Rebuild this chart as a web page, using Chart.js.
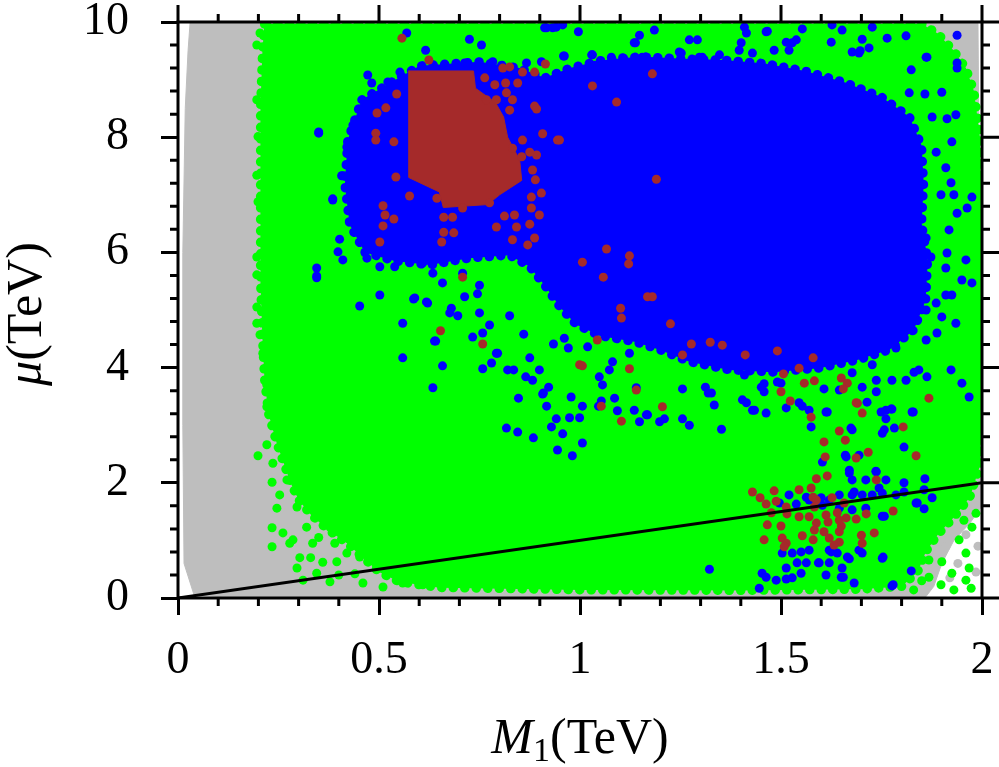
<!DOCTYPE html>
<html>
<head>
<meta charset="utf-8">
<script src="https://cdn.jsdelivr.net/npm/chart.js@4.4.1/dist/chart.umd.min.js"></script>
<style>
  html, body { margin: 0; padding: 0; background: #fff; }
  canvas { display: block; }
</style>
</head>
<body>
<canvas id="scan" width="999" height="767"></canvas>
<script>
// tick values of the two axes
const X_TICKS = [0, 0.5, 1, 1.5, 2];
const Y_TICKS = [0, 2, 4, 6, 8, 10];

// outlines of the areas that are solidly covered by points, [M1, mu] in TeV
const GRAY_REGION = [
    [0.03, 9.98], [1.99, 9.98], [2.0, 1.6], [1.97, 1.3], [1.93, 1.0], [1.90, 0.6], [1.88, 0.2],
    [1.86, 0.02], [0.12, 0.02], [0.04, 0.05], [0.015, 0.6], [0.012, 3], [0.012, 6], [0.018, 8.5],
    [0.025, 9.5], [0.03, 9.98],
];

const GREEN_REGION = [
    [0.215, 9.97], [0.21, 9.5], [0.205, 8.5], [0.205, 7.5], [0.205, 6.5], [0.205, 5.5], [0.21, 4.5],
    [0.215, 3.8], [0.225, 3.2], [0.245, 2.7], [0.265, 2.3], [0.28, 2.0], [0.30, 1.7], [0.33, 1.45],
    [0.37, 1.2], [0.42, 0.95], [0.46, 0.7], [0.50, 0.45], [0.55, 0.28], [0.65, 0.18], [1.0, 0.14],
    [1.4, 0.13], [1.7, 0.15], [1.80, 0.2], [1.84, 0.45], [1.86, 0.8], [1.89, 1.1], [1.93, 1.4],
    [1.97, 1.75], [1.995, 2.3], [2.0, 3.5], [2.0, 5], [2.0, 6.5], [1.995, 8], [1.98, 8.8],
    [1.96, 9.2], [1.93, 9.5], [1.89, 9.8], [1.85, 9.97], [0.215, 9.97],
];

const BLUE_REGION = [
    [0.457, 8.65], [0.539, 8.99], [0.601, 9.24], [0.750, 9.31], [0.850, 9.20], [0.912, 9.03],
    [0.975, 9.20], [1.05, 9.33], [1.15, 9.40], [1.26, 9.36], [1.36, 9.34], [1.46, 9.28],
    [1.56, 9.15], [1.66, 8.95], [1.75, 8.70], [1.82, 8.35], [1.85, 7.85], [1.855, 7.20],
    [1.85, 6.50], [1.865, 5.87], [1.86, 5.17], [1.83, 4.65], [1.77, 4.31], [1.69, 4.13],
    [1.595, 3.99], [1.483, 3.92], [1.371, 3.96], [1.272, 4.10], [1.198, 4.31], [1.135, 4.45],
    [1.05, 4.55], [0.99, 4.75], [0.95, 5.05], [0.915, 5.40], [0.875, 5.75], [0.825, 5.95],
    [0.725, 5.90], [0.626, 5.78], [0.539, 5.85], [0.465, 6.00], [0.427, 6.48], [0.415, 7.17],
    [0.422, 7.95], [0.457, 8.65],
];

const BROWN_REGION = [
    [0.574, 9.15], [0.735, 9.15], [0.74, 8.85], [0.79, 8.60], [0.81, 8.35], [0.82, 8.00],
    [0.85, 7.60], [0.855, 7.25], [0.80, 7.00], [0.77, 6.83], [0.66, 6.78], [0.65, 7.05],
    [0.574, 7.30], [0.574, 9.15],
];

// single points outside the solid areas
const GRAY_POINTS = [
    [1.91, 0.89], [1.94, 0.60], [1.96, 1.10], [1.99, 0.90], [1.92, 0.35], [1.985, 0.45],
];

const GREEN_POINTS = [
    [0.204, 9.81], [0.258, 9.86], [0.196, 9.60], [0.229, 9.46], [0.196, 8.65], [0.199, 8.01],
    [0.196, 7.34], [0.199, 6.88], [0.196, 5.92], [0.196, 5.61], [0.196, 5.05], [0.196, 4.77],
    [0.204, 4.57], [0.211, 4.25], [0.221, 3.73], [0.221, 3.70], [0.221, 3.32], [0.246, 3.49],
    [0.199, 2.47], [0.221, 2.66], [0.236, 2.34], [0.234, 2.01], [0.253, 1.79], [0.246, 1.56],
    [0.234, 1.22], [0.234, 0.89], [0.261, 1.13], [0.278, 0.95], [0.296, 0.52], [0.311, 0.31],
    [0.378, 0.28], [0.345, 0.43], [0.395, 0.63], [0.42, 0.78], [0.378, 1.23], [0.41, 1.13],
    [0.335, 0.95], [0.32, 1.23], [0.296, 1.58], [0.271, 2.05], [0.46, 0.26], [0.51, 0.19],
    [0.559, 0.26], [0.609, 0.23], [0.452, 0.71], [0.494, 0.54], [0.286, 1.01], [0.303, 0.70],
    [0.36, 0.62], [0.44, 0.42], [0.40, 0.40], [0.33, 0.70], [0.35, 1.05], [0.39, 0.95],
    [1.868, 0.66], [1.90, 0.63], [1.925, 0.43], [1.96, 0.31], [1.973, 0.17], [1.93, 0.14],
    [1.898, 0.23], [1.868, 0.36], [1.96, 0.78], [1.968, 0.52], [1.943, 1.01], [1.975, 1.23],
    [1.955, 1.35], [1.985, 1.47], [1.83, 0.14], [1.85, 0.30],
];

const BLUE_POINTS = [
    [0.569, 9.81], [0.616, 9.51], [0.725, 9.70], [0.755, 9.60], [0.35, 8.09], [0.385, 6.93],
    [0.407, 7.33], [0.345, 5.73], [0.345, 5.56], [0.502, 5.26], [0.452, 5.07], [0.559, 4.77],
    [0.638, 4.46], [0.559, 4.17], [0.634, 3.65], [0.658, 4.03], [0.398, 6.01], [0.402, 6.23],
    [0.589, 5.21], [0.618, 5.14], [0.676, 4.95], [0.733, 4.53], [0.758, 4.60], [0.758, 3.98],
    [0.78, 4.08], [0.792, 4.25], [0.75, 4.95], [0.658, 5.47], [0.708, 5.64], [0.75, 5.43],
    [0.586, 5.19], [0.621, 5.12], [0.641, 4.46], [0.713, 5.23], [0.745, 5.28], [0.68, 5.03],
    [0.696, 4.90], [0.775, 4.74], [0.817, 2.95], [0.845, 2.88], [0.884, 2.78], [0.847, 3.47],
    [0.825, 4.90], [0.86, 4.58], [0.875, 4.17], [0.865, 3.84], [0.882, 3.78], [0.899, 3.96],
    [0.795, 4.25], [0.82, 3.96], [0.835, 3.96], [0.909, 3.56], [0.917, 3.33], [0.941, 3.11],
    [0.929, 2.97], [0.957, 2.85], [1.006, 2.69], [0.944, 2.57], [0.981, 2.47], [0.974, 3.13],
    [0.999, 3.13], [1.006, 3.33], [0.978, 3.49], [0.934, 4.41], [0.971, 4.34], [0.961, 4.51],
    [1.019, 4.36], [1.046, 3.33], [1.053, 3.42], [1.093, 3.25], [1.135, 3.26], [1.168, 3.18],
    [1.148, 3.06], [1.198, 3.06], [1.056, 3.70], [1.048, 3.84], [1.081, 4.10], [1.073, 3.96],
    [1.123, 4.25], [1.14, 3.65], [1.255, 3.63], [1.272, 3.00], [1.255, 3.11], [1.312, 3.66],
    [1.327, 3.56], [1.334, 3.35], [1.352, 2.93], [1.404, 3.44], [1.429, 3.26], [1.463, 3.21],
    [1.513, 3.30], [1.553, 3.33], [1.575, 2.97], [1.451, 3.66], [1.458, 3.58], [1.50, 3.73],
    [0.907, 3.54], [0.922, 3.66], [1.086, 3.47], [1.165, 3.18], [1.21, 3.11], [1.319, 3.56],
    [1.615, 3.23], [1.674, 2.95], [1.761, 3.26], [1.776, 3.28], [1.761, 3.11], [1.752, 2.86],
    [1.782, 2.95], [1.829, 3.23], [1.806, 2.62], [1.694, 2.48], [1.662, 2.45], [1.603, 2.36],
    [1.322, 0.50],
    [1.67, 2.22], [1.677, 2.05], [1.711, 2.05], [1.736, 2.20], [1.761, 2.05], [1.806, 2.00],
    [1.858, 2.07], [1.856, 1.88], [1.876, 1.74], [1.839, 1.65], [1.856, 1.55], [1.806, 1.84],
    [1.786, 1.79], [1.752, 1.82], [1.727, 1.79], [1.702, 1.79], [1.677, 1.79], [1.645, 1.79],
    [1.62, 1.70], [1.60, 1.74], [1.57, 1.70], [1.52, 1.79], [1.496, 1.65], [1.645, 1.56],
    [1.677, 1.53], [1.752, 1.42], [1.711, 1.56],
    [1.503, 0.78], [1.55, 0.80], [1.57, 0.83], [1.54, 0.61], [1.593, 0.61], [1.62, 0.61],
    [1.62, 0.83], [1.64, 0.78], [1.665, 0.71], [1.694, 0.83], [1.702, 0.78], [1.752, 0.69],
    [1.652, 0.52], [1.65, 0.36], [1.682, 0.26], [1.612, 0.40], [1.55, 0.43], [1.513, 0.52],
    [1.513, 0.33], [1.488, 0.31], [1.453, 0.43], [1.463, 0.36], [1.446, 0.17], [1.776, 0.21],
    [1.824, 0.47],
    [1.538, 1.63], [1.563, 1.75], [1.603, 1.61], [1.67, 2.17], [1.682, 1.84], [1.737, 2.19],
    [1.744, 1.91], [1.836, 1.65], [1.757, 1.42], [1.528, 0.78], [1.563, 0.61], [1.528, 0.35],
    [1.595, 0.61], [1.625, 0.80], [1.67, 0.68], [1.655, 0.36], [1.754, 0.71], [1.779, 0.23],
    [1.466, 4.01], [1.409, 3.87], [1.458, 3.72], [1.491, 3.75], [1.414, 3.39], [1.434, 3.26],
    [1.545, 3.39], [1.57, 3.26], [1.612, 3.23], [1.607, 3.63], [1.645, 3.61], [1.677, 3.91],
    [1.702, 3.66], [1.737, 3.58], [1.714, 3.40], [1.749, 3.23], [1.774, 3.28], [1.757, 2.92],
    [1.826, 3.23], [1.66, 2.48], [1.677, 2.92], [1.776, 3.78], [1.831, 3.92], [1.727, 4.05],
    [0.996, 9.83], [1.148, 9.77], [1.185, 9.86], [1.138, 9.64], [1.409, 9.91], [1.466, 9.84],
    [1.553, 9.88], [1.627, 9.95], [1.652, 9.86], [1.727, 9.91], [1.702, 9.70], [1.764, 9.72],
    [1.811, 9.76], [1.938, 9.77], [1.863, 9.39], [1.938, 9.29], [1.938, 9.20], [1.625, 9.65],
    [1.677, 9.48], [1.697, 9.50], [1.719, 9.55], [1.528, 9.64], [1.52, 9.51], [1.401, 9.64],
    [1.429, 9.46], [1.272, 9.69], [1.292, 9.69], [1.304, 9.39], [1.347, 9.43], [1.247, 9.48],
    [1.205, 9.29], [1.078, 9.39], [1.031, 9.43], [0.961, 9.41], [0.949, 9.01], [0.984, 8.87],
    [0.912, 9.90], [0.932, 9.90], [0.957, 9.95], [1.135, 9.64], [1.414, 9.81], [1.396, 9.51],
    [1.463, 9.83], [1.483, 9.51], [1.513, 9.65], [1.538, 9.69], [1.694, 9.46], [1.861, 9.39],
    [1.252, 9.46], [1.297, 9.39], [1.155, 9.39], [1.106, 9.38], [1.066, 9.20], [1.198, 9.25],
    [1.824, 9.17], [1.858, 8.75], [1.90, 8.78], [1.819, 8.77], [1.876, 8.35], [1.913, 8.32],
    [1.935, 8.39], [1.925, 7.92], [1.886, 7.74], [1.91, 7.47], [1.923, 7.21], [1.898, 7.00],
    [1.93, 7.00], [1.975, 6.96], [1.963, 6.77], [1.938, 6.68], [1.918, 6.39], [1.861, 6.25],
    [1.913, 5.99], [1.96, 5.87], [1.873, 5.92], [1.91, 5.73], [1.95, 5.52], [1.975, 5.47],
    [1.861, 5.40], [1.91, 5.26], [1.925, 5.26], [1.886, 5.12], [1.861, 5.00], [1.90, 4.88],
    [1.935, 4.77], [1.888, 4.60], [1.861, 4.48], [1.776, 4.53], [1.786, 4.34], [1.843, 3.96],
    [1.923, 3.96], [1.811, 3.78], [1.863, 3.84], [1.95, 3.73], [1.737, 3.78], [1.968, 3.49],
    [0.35, 8.07], [0.435, 8.21], [0.42, 7.83], [0.41, 7.33], [0.385, 6.91], [0.41, 5.87],
    [0.345, 5.59], [0.472, 9.08], [0.482, 8.94], [0.522, 8.96], [0.552, 9.13], [0.713, 9.29],
    [0.783, 9.31], [0.867, 9.29], [0.904, 9.31], [0.959, 9.41], [0.917, 9.90], [0.941, 9.91],
    [1.029, 9.43], [1.036, 9.25], [1.031, 8.68], [1.004, 9.03], [0.47, 5.90], [0.502, 5.75],
    [0.539, 5.75], [0.576, 5.90], [0.609, 5.82], [0.634, 5.64],
];

const BROWN_POINTS = [
    [0.557, 9.72], [0.624, 9.34], [0.544, 8.75], [0.517, 8.51], [0.495, 8.42], [0.492, 8.07],
    [0.492, 7.95], [0.537, 7.92], [0.542, 7.31], [0.576, 6.98], [0.51, 6.81], [0.515, 6.65],
    [0.537, 6.58], [0.51, 6.46], [0.502, 6.18], [0.644, 6.94], [0.661, 6.61], [0.683, 6.61],
    [0.661, 6.35], [0.686, 6.34], [0.656, 6.18], [0.708, 6.77], [0.775, 6.86], [0.792, 6.44],
    [0.812, 6.63], [0.837, 6.65], [0.842, 6.44], [0.832, 6.22], [0.875, 6.49], [0.899, 6.65],
    [0.879, 6.77], [0.887, 6.25], [0.87, 6.13], [0.879, 6.96], [0.904, 7.03], [0.889, 7.26],
    [0.882, 7.43], [0.892, 7.69], [0.875, 7.74], [0.855, 7.66], [0.857, 7.95], [0.832, 7.81],
    [0.907, 8.06], [0.944, 7.95], [0.825, 8.47], [0.832, 8.65], [0.887, 8.54], [0.892, 8.49],
    [0.817, 8.77], [0.815, 8.94], [0.845, 8.94], [0.857, 9.13], [0.887, 9.13], [0.914, 9.27],
    [0.825, 9.22], [0.808, 9.20], [0.763, 9.03], [0.792, 8.65], [0.767, 8.65], [0.788, 8.91],
    [1.031, 8.89], [1.006, 5.83], [0.708, 5.57],
    [1.18, 9.10], [1.091, 8.61], [1.19, 7.27], [1.066, 6.06], [1.123, 5.94], [1.121, 5.80],
    [1.058, 5.57], [1.168, 5.23], [1.18, 5.23], [1.101, 5.03], [1.103, 4.86], [1.225, 4.76],
    [1.043, 4.48], [1.277, 4.41], [1.324, 4.44], [1.354, 4.39], [1.255, 4.22], [1.411, 4.22],
    [1.491, 4.29], [1.58, 4.17], [1.545, 3.99], [1.506, 3.89], [0.999, 4.05], [1.123, 3.98],
    [1.14, 3.61], [1.65, 3.82], [1.558, 3.73], [1.583, 3.77], [1.50, 3.58], [1.868, 3.47],
    [0.949, 7.95],
    [1.804, 2.97], [1.836, 2.47], [1.717, 2.53], [1.687, 2.43], [1.702, 3.21], [1.69, 3.38],
    [1.053, 3.33], [1.103, 3.07], [1.205, 3.32], [0.653, 4.64], [0.758, 4.41], [1.006, 4.03],
    [1.523, 3.42], [1.665, 3.73], [1.655, 3.63], [1.575, 3.14], [1.687, 3.39], [1.645, 2.90],
    [1.66, 2.74], [1.607, 2.71], [1.61, 2.45], [1.588, 2.07], [1.615, 2.12], [1.737, 2.05],
    [1.429, 1.84], [1.448, 1.74], [1.483, 1.86], [1.545, 1.88], [1.575, 1.91], [1.58, 1.75],
    [1.463, 1.63], [1.488, 1.68], [1.513, 1.58], [1.583, 1.58], [1.627, 1.74], [1.657, 1.65],
    [1.476, 1.48], [1.515, 1.46], [1.545, 1.41], [1.57, 1.41], [1.612, 1.44], [1.64, 1.48],
    [1.662, 1.39], [1.687, 1.37], [1.712, 1.46], [1.779, 1.51], [1.466, 1.27], [1.50, 1.25],
    [1.588, 1.30], [1.617, 1.32], [1.65, 1.25], [1.583, 1.18], [1.607, 1.15], [1.645, 1.15],
    [1.458, 1.01], [1.503, 1.04], [1.513, 0.95], [1.553, 1.08], [1.58, 1.01], [1.62, 1.04],
    [1.645, 0.97], [1.632, 0.92], [1.70, 1.09], [1.702, 0.95], [1.732, 1.13], [1.508, 0.89],
    [1.588, 1.70], [1.645, 1.35],
];

// the line mu = M1
const DIAGONAL = [[0, 0], [2, 2]];

const FONT = '"Liberation Serif", "DejaVu Serif", serif';
const MAJOR_TICK = 17;
const MINOR_TICK = 8;

const toXY = (pairs) => pairs.map(([x, y]) => ({x, y}));

// filled outline; the dotted round-capped border gives the edge the grain of the dots
function region(pairs, color, order, edge) {
    return {
        data: toXY(pairs),
        showLine: true,
        fill: 'shape',
        tension: 0,
        borderWidth: edge ? 9 : 1,
        borderDash: edge ? [0.5, 11] : [],
        borderCapStyle: 'round',
        borderColor: color,
        backgroundColor: color,
        pointRadius: 0,
        clip: 0,
        order,
    };
}

function dots(pairs, color, order) {
    return {
        data: toXY(pairs),
        showLine: false,
        pointRadius: 4.5,
        pointBorderWidth: 0,
        backgroundColor: color,
        borderColor: color,
        clip: 0,
        order,
    };
}

// frame, minor ticks, ticks on the top and right side, axis titles
const framePlugin = {
    id: 'frame',
    afterDraw(chart) {
        const {ctx, chartArea: a, scales: {x, y}} = chart;
        ctx.save();
        ctx.strokeStyle = '#000';
        ctx.lineWidth = 3;
        ctx.lineCap = 'butt';
        ctx.strokeRect(a.left, a.top, a.right - a.left, a.bottom - a.top);

        ctx.beginPath();
        for (let i = 0; i <= 20; i++) {
            const px = x.getPixelForValue(i / 10);
            const major = i % 5 === 0;
            const len = major ? MAJOR_TICK : MINOR_TICK;
            if (!major) {
                ctx.moveTo(px, a.bottom);
                ctx.lineTo(px, a.bottom + len);
            }
            ctx.moveTo(px, a.top);
            ctx.lineTo(px, a.top - len);
        }
        for (let i = 0; i <= 25; i++) {
            const py = y.getPixelForValue(i * 0.4);
            const major = i % 5 === 0;
            const len = major ? MAJOR_TICK : MINOR_TICK;
            if (!major) {
                ctx.moveTo(a.left, py);
                ctx.lineTo(a.left - len, py);
            }
            ctx.moveTo(a.right, py);
            ctx.lineTo(a.right + len, py);
        }
        ctx.stroke();

        ctx.fillStyle = '#000';
        ctx.textBaseline = 'alphabetic';

        // x title: M_1(TeV)
        const big = `50px ${FONT}`;
        const ital = `italic 50px ${FONT}`;
        const sub = `34px ${FONT}`;
        ctx.font = ital; const wM = ctx.measureText('M').width;
        ctx.font = sub; const w1 = ctx.measureText('1').width;
        ctx.font = big; const wT = ctx.measureText('(TeV)').width;
        let tx = (a.left + a.right) / 2 - (wM + w1 + wT) / 2;
        const ty = 753;
        ctx.font = ital; ctx.fillText('M', tx, ty); tx += wM;
        ctx.font = sub; ctx.fillText('1', tx, ty + 8); tx += w1;
        ctx.font = big; ctx.fillText('(TeV)', tx, ty);

        // y title: mu(TeV), rotated
        ctx.translate(41, (a.top + a.bottom) / 2 + 4);
        ctx.rotate(-Math.PI / 2);
        ctx.font = ital; const wmu = ctx.measureText('μ').width;
        ctx.font = big; const wT2 = ctx.measureText('(TeV)').width;
        let ux = -(wmu + wT2) / 2;
        ctx.font = ital; ctx.fillText('μ', ux, 0); ux += wmu;
        ctx.font = big; ctx.fillText('(TeV)', ux, 0);
        ctx.restore();
    },
};

function axis(ticks, min, max, padding, size) {
    return {
        type: 'linear',
        min,
        max,
        afterBuildTicks: (scale) => { scale.ticks = ticks.map((v) => ({value: v})); },
        afterFit: (scale) => {
            if (scale.isHorizontal()) scale.height = size;
            else scale.width = size;
            scale.paddingLeft = scale.paddingRight = scale.paddingTop = scale.paddingBottom = 0;
        },
        ticks: {
            color: '#000',
            font: {family: FONT, size: 46},
            padding,
            maxRotation: 0,
            autoSkip: false,
            callback: (v) => String(v),
        },
        grid: {
            drawOnChartArea: false,
            drawTicks: true,
            tickLength: MAJOR_TICK,
            tickWidth: 3,
            tickColor: '#000',
        },
        border: {display: false},
    };
}

new Chart(document.getElementById('scan'), {
    type: 'scatter',
    data: {
        datasets: [
            {
                data: toXY(DIAGONAL),
                showLine: true,
                borderColor: '#000',
                borderWidth: 3,
                pointRadius: 0,
                clip: 0,
                order: 0,
            },
            dots(BROWN_POINTS, '#a52a2a', 1),
            region(BROWN_REGION, '#a52a2a', 2, false),
            dots(BLUE_POINTS, '#0000ff', 3),
            region(BLUE_REGION, '#0000ff', 4, true),
            dots(GREEN_POINTS, '#00ff00', 5),
            region(GREEN_REGION, '#00ff00', 6, true),
            dots(GRAY_POINTS, '#bebebe', 7),
            region(GRAY_REGION, '#bebebe', 8, false),
        ],
    },
    options: {
        responsive: false,
        animation: false,
        events: [],
        layout: {padding: {left: 83, right: 17, top: 22, bottom: 79}},
        plugins: {legend: {display: false}, tooltip: {enabled: false}},
        scales: {
            x: axis(X_TICKS, 0, 2, 18, 90),
            y: axis(Y_TICKS, 0, 10, 32, 95),
        },
    },
    plugins: [framePlugin],
});
</script>
</body>
</html>
